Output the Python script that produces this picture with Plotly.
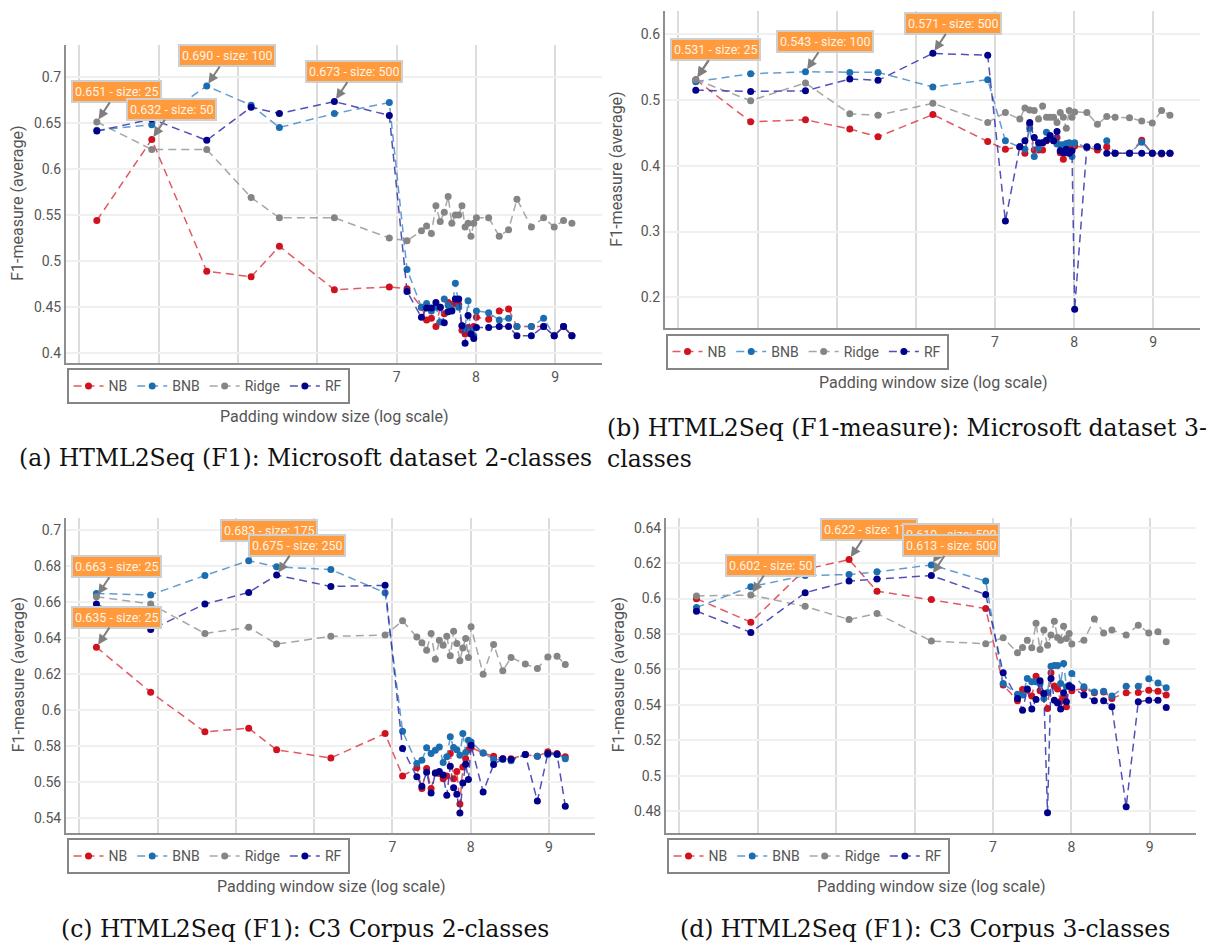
import math
import plotly.graph_objects as go

W, H = 1217, 947

sizes = [25, 50, 100, 175, 250, 500, 1000, 1250, 1500, 1600, 1700, 1800, 1900, 2000,
         2100, 2200, 2300, 2400, 2500, 2600, 2700, 2800, 2900, 3000, 3500, 4000, 4500,
         5000, 6000, 7000, 8000, 9000, 10000]
series_names = ["NB", "BNB", "Ridge", "RF"]
x_ticks = [3, 4, 5, 6, 7, 8, 9]

# (a) Microsoft dataset 2-classes
a_nb = [0.544, 0.632, 0.489, 0.483, 0.516, 0.469, 0.472, 0.470,
        0.450, 0.436, 0.438, 0.429, 0.450, 0.443, 0.455, 0.453, 0.454, 0.453, 0.425, 0.421,
        0.428, 0.426, 0.429, 0.439,
        0.437, 0.446, 0.448, 0.429, 0.429, 0.429, 0.419, 0.429, 0.419]
a_bnb = [0.642, 0.648, 0.690, 0.669, 0.645, 0.660, 0.672, 0.491,
         0.450, 0.454, 0.446, 0.450, 0.434, 0.459, 0.452, 0.447, 0.476, 0.450, 0.430, 0.427,
         0.457, 0.424, 0.419, 0.446,
         0.444, 0.436, 0.438, 0.429, 0.429, 0.438, 0.419, 0.429, 0.419]
a_ridge = [0.651, 0.621, 0.621, 0.569, 0.547, 0.547, 0.525, 0.522,
           0.533, 0.538, 0.530, 0.560, 0.543, 0.553, 0.570, 0.541, 0.550, 0.550, 0.560, 0.537,
           0.541, 0.527, 0.541, 0.547,
           0.547, 0.527, 0.534, 0.567, 0.537, 0.547, 0.537, 0.544, 0.541]
a_rf = [0.641, 0.654, 0.631, 0.667, 0.660, 0.673, 0.658, 0.467,
        0.439, 0.449, 0.449, 0.455, 0.450, 0.433, 0.445, 0.446, 0.459, 0.459, 0.430, 0.411,
        0.441, 0.421, 0.416, 0.428,
        0.428, 0.429, 0.429, 0.419, 0.419, 0.429, 0.419, 0.429, 0.419]

# (b) Microsoft dataset 3-classes
b_nb = [0.531, 0.467, 0.470, 0.456, 0.444, 0.478, 0.437, 0.425,
        0.429, 0.419, 0.463, 0.424, 0.424, 0.424, 0.438, 0.443, 0.438, 0.443, 0.420, 0.410,
        0.420, 0.425, 0.425, 0.430,
        0.428, 0.424, 0.429, 0.419, 0.419, 0.439, 0.419, 0.418, 0.419]
b_bnb = [0.528, 0.540, 0.543, 0.542, 0.542, 0.520, 0.531, 0.438,
         0.429, 0.425, 0.457, 0.414, 0.427, 0.435, 0.451, 0.443, 0.440, 0.433, 0.432, 0.432,
         0.434, 0.435, 0.414, 0.435,
         0.428, 0.429, 0.438, 0.419, 0.419, 0.436, 0.419, 0.419, 0.419]
b_ridge = [0.531, 0.499, 0.526, 0.479, 0.477, 0.495, 0.466, 0.481,
           0.471, 0.488, 0.485, 0.484, 0.471, 0.491, 0.474, 0.474, 0.474, 0.466, 0.481, 0.474,
           0.457, 0.484, 0.474, 0.482,
           0.481, 0.463, 0.475, 0.474, 0.473, 0.468, 0.465, 0.484, 0.477]
b_rf = [0.515, 0.513, 0.514, 0.532, 0.530, 0.571, 0.568, 0.316,
        0.429, 0.438, 0.466, 0.443, 0.435, 0.435, 0.439, 0.446, 0.438, 0.452, 0.423, 0.420,
        0.425, 0.419, 0.423, 0.182,
        0.429, 0.429, 0.419, 0.419, 0.419, 0.419, 0.419, 0.419, 0.419]

# (c) C3 Corpus 2-classes
c_nb = [0.635, 0.610, 0.588, 0.590, 0.578, 0.5735, 0.587, 0.5635,
        0.568, 0.5565, 0.5676, 0.5565, 0.5652, 0.5648, 0.562, 0.5635, 0.5759, 0.562, 0.566, 0.548,
        0.5685, 0.5731, 0.5781, 0.5793,
        0.5763, 0.5744, 0.5731, 0.5731, 0.5754, 0.5744, 0.5769, 0.5759, 0.5741]
c_bnb = [0.6648, 0.664, 0.6748, 0.683, 0.6796, 0.6781, 0.6652, 0.5883,
         0.5704, 0.5722, 0.5791, 0.576, 0.5778, 0.5796, 0.571, 0.5741, 0.5852, 0.5793, 0.578, 0.575,
         0.587, 0.5765, 0.5833, 0.5824,
         0.5763, 0.5726, 0.5726, 0.5719, 0.5754, 0.5744, 0.5754, 0.5754, 0.5731]
c_ridge = [0.663, 0.659, 0.6426, 0.646, 0.6367, 0.641, 0.6417, 0.6496,
           0.6407, 0.6374, 0.6333, 0.6426, 0.6283, 0.6389, 0.6361, 0.6411, 0.6302, 0.6439, 0.637, 0.6274,
           0.6346, 0.6398, 0.6293, 0.6463,
           0.620, 0.6365, 0.6219, 0.6293, 0.6256, 0.6231, 0.6296, 0.630, 0.6254]
c_rf = [0.6589, 0.6448, 0.6589, 0.6654, 0.675, 0.6687, 0.6693, 0.5787,
        0.563, 0.5578, 0.5656, 0.5541, 0.5652, 0.566, 0.564, 0.5528, 0.5689, 0.557, 0.5533, 0.543,
        0.5596, 0.570, 0.5615, 0.5806,
        0.5546, 0.5698, 0.5731, 0.5726, 0.5754, 0.5496, 0.5759, 0.5756, 0.5467]

# (d) C3 Corpus 3-classes
d_nb = [0.5999, 0.5867, 0.6165, 0.622, 0.6042, 0.5995, 0.5944, 0.5512,
        0.5423, 0.5487, 0.5483, 0.545, 0.5562, 0.548, 0.546, 0.538, 0.5581, 0.5506, 0.549, 0.542,
        0.5445, 0.5389, 0.5506, 0.548,
        0.5492, 0.5468, 0.5473, 0.5436, 0.5468, 0.547, 0.5483, 0.5477, 0.5455]
d_bnb = [0.595, 0.6067, 0.613, 0.6136, 0.6151, 0.619, 0.6099, 0.552,
         0.546, 0.5455, 0.5549, 0.553, 0.553, 0.552, 0.5436, 0.547, 0.5618, 0.5622, 0.5622, 0.552,
         0.5633, 0.5502, 0.5511, 0.5577,
         0.5502, 0.5473, 0.5477, 0.545, 0.5505, 0.5505, 0.5547, 0.5524, 0.5496]
d_ridge = [0.6015, 0.602, 0.5956, 0.5882, 0.5916, 0.576, 0.5745, 0.5779,
           0.5694, 0.5724, 0.5765, 0.5722, 0.586, 0.5713, 0.5822, 0.5737, 0.5794, 0.5872, 0.578, 0.5765,
           0.5844, 0.5775, 0.5803, 0.5743,
           0.5765, 0.5884, 0.5806, 0.5822, 0.5794, 0.585, 0.5806, 0.5812, 0.5756]
d_rf = [0.5929, 0.5809, 0.6033, 0.6099, 0.611, 0.613, 0.6023, 0.5581,
        0.5436, 0.537, 0.5489, 0.5376, 0.543, 0.5536, 0.5464, 0.479, 0.5549, 0.5426, 0.5411, 0.5376,
        0.5468, 0.5417, 0.5506, 0.5498,
        0.5455, 0.5423, 0.5423, 0.5389, 0.4824, 0.5417, 0.5426, 0.5426, 0.5385]

captions = ["(a) HTML2Seq (F1): Microsoft dataset 2-classes",
            "(b) HTML2Seq (F1-measure): Microsoft dataset 3-",
            "classes",
            "(c) HTML2Seq (F1): C3 Corpus 2-classes",
            "(d) HTML2Seq (F1): C3 Corpus 3-classes"]
x_title = "Padding window size (log scale)"
y_title = "F1-measure (average)"

# ---------------- styling / layout (pixels) ----------------
marker_colors = {"NB": "#d0121e", "BNB": "#1c6db0", "Ridge": "#858585", "RF": "#00008b"}
line_colors = {"NB": "rgba(220,60,70,0.85)", "BNB": "rgba(70,140,200,0.85)",
               "Ridge": "rgba(150,150,150,0.85)", "RF": "rgba(50,50,170,0.85)"}

panels = [
    dict(data=[a_nb, a_bnb, a_ridge, a_rf], box=(66, 602, 45, 362.7), yr=(0.3898, 0.7344), dt=0.05),
    dict(data=[b_nb, b_bnb, b_ridge, b_rf], box=(665, 1200, 11, 328.3), yr=(0.1529, 0.6354), dt=0.1),
    dict(data=[c_nb, c_bnb, c_ridge, c_rf], box=(66, 595, 518, 832.7), yr=(0.532, 0.7067), dt=0.02),
    dict(data=[d_nb, d_bnb, d_ridge, d_rf], box=(666, 1196, 518, 832.7), yr=(0.4678, 0.6455), dt=0.02),
]
XR = (2.83, 9.59)
FONT = "Roboto"
TXT = "#555555"

fig = go.Figure()
xs = [math.log(s) for s in sizes]
annotations = []
layout = {}

for p, pan in enumerate(panels):
    sfx = "" if p == 0 else str(p + 1)
    xa, ya, leg = "x" + sfx, "y" + sfx, "legend" + sfx
    x0, x1, y0, y1 = pan["box"]
    for name, vals in zip(series_names, pan["data"]):
        fig.add_trace(go.Scatter(
            x=xs, y=vals, mode="lines+markers", name=name,
            xaxis=xa, yaxis=ya, legend=leg,
            line=dict(color=line_colors[name], width=1.5, dash="8px,5px"),
            marker=dict(color=marker_colors[name], size=7),
        ))
    layout["xaxis" + sfx] = dict(
        domain=[x0 / W, x1 / W], range=list(XR), anchor=ya, tickvals=x_ticks,
        showgrid=True, gridcolor="#dcdcdc", gridwidth=2, zeroline=False,
        showline=True, linecolor="#8f8f8f", linewidth=2, ticks="",
        tickfont=dict(family=FONT, size=14, color=TXT))
    layout["yaxis" + sfx] = dict(
        domain=[1 - y1 / H, 1 - y0 / H], range=list(pan["yr"]), anchor=xa, dtick=pan["dt"],
        showgrid=True, gridcolor="#f0f0f0", gridwidth=2, zeroline=False,
        showline=True, linecolor="#8f8f8f", linewidth=2, ticks="",
        tickfont=dict(family=FONT, size=14, color=TXT))
    layout[leg] = dict(
        x=(x0 + 0.5) / W, y=1 - (y1 + 5.6) / H, xanchor="left", yanchor="top",
        orientation="h", bgcolor="white", bordercolor="#858585", borderwidth=2,
        font=dict(family=FONT, size=14, color=TXT))
    # axis titles
    annotations.append(dict(x=(x0 + x1) / 2 / W, y=1 - (y1 + 54) / H, xref="paper", yref="paper",
                            text=x_title, showarrow=False, xanchor="center", yanchor="middle",
                            font=dict(family=FONT, size=16, color=TXT)))
    annotations.append(dict(x=(x0 - 48) / W, y=1 - (y0 + y1) / 2 / H, xref="paper", yref="paper",
                            text=y_title, showarrow=False, textangle=-90, xanchor="center",
                            yanchor="middle", font=dict(family=FONT, size=16, color=TXT)))
    # best-value callouts
    best = []
    for name, vals in zip(series_names, pan["data"]):
        i = max(range(len(vals)), key=lambda k: vals[k])
        best.append((sizes[i], xs[i], vals[i]))
    best.sort(key=lambda t: t[0])
    for s, xv, v in best:
        annotations.append(dict(
            x=xv, y=v, xref=xa, yref=ya, text=f"{v:.3f} - size: {s}",
            showarrow=True, ax=20, ay=-30, arrowhead=2, arrowsize=1, arrowwidth=2,
            arrowcolor="#7f7f7f", standoff=3,
            bgcolor="#ff9a3d", bordercolor="#cfcfcf", borderwidth=2, borderpad=2,
            font=dict(family=FONT, size=12.5, color="#fff4e6")))

# captions
CAP = dict(family="DejaVu Serif", size=23.5, color="#111111")
annotations.append(dict(x=305 / W, y=1 - 458 / H, xref="paper", yref="paper", text=captions[0],
                        showarrow=False, xanchor="center", yanchor="middle", font=CAP))
annotations.append(dict(x=605 / W, y=1 - 428 / H, xref="paper", yref="paper", text=captions[1],
                        showarrow=False, xanchor="left", yanchor="middle", font=CAP))
annotations.append(dict(x=605 / W, y=1 - 459 / H, xref="paper", yref="paper", text=captions[2],
                        showarrow=False, xanchor="left", yanchor="middle", font=CAP))
annotations.append(dict(x=305 / W, y=1 - 929 / H, xref="paper", yref="paper", text=captions[3],
                        showarrow=False, xanchor="center", yanchor="middle", font=CAP))
annotations.append(dict(x=925 / W, y=1 - 929 / H, xref="paper", yref="paper", text=captions[4],
                        showarrow=False, xanchor="center", yanchor="middle", font=CAP))

fig.update_layout(
    width=W, height=H, margin=dict(l=0, r=0, t=0, b=0),
    paper_bgcolor="white", plot_bgcolor="white",
    font=dict(family=FONT, color=TXT),
    annotations=annotations, **layout)

fig.write_html("out.html", config={"displayModeBar": False},
               post_script="document.body.style.margin='0';")
